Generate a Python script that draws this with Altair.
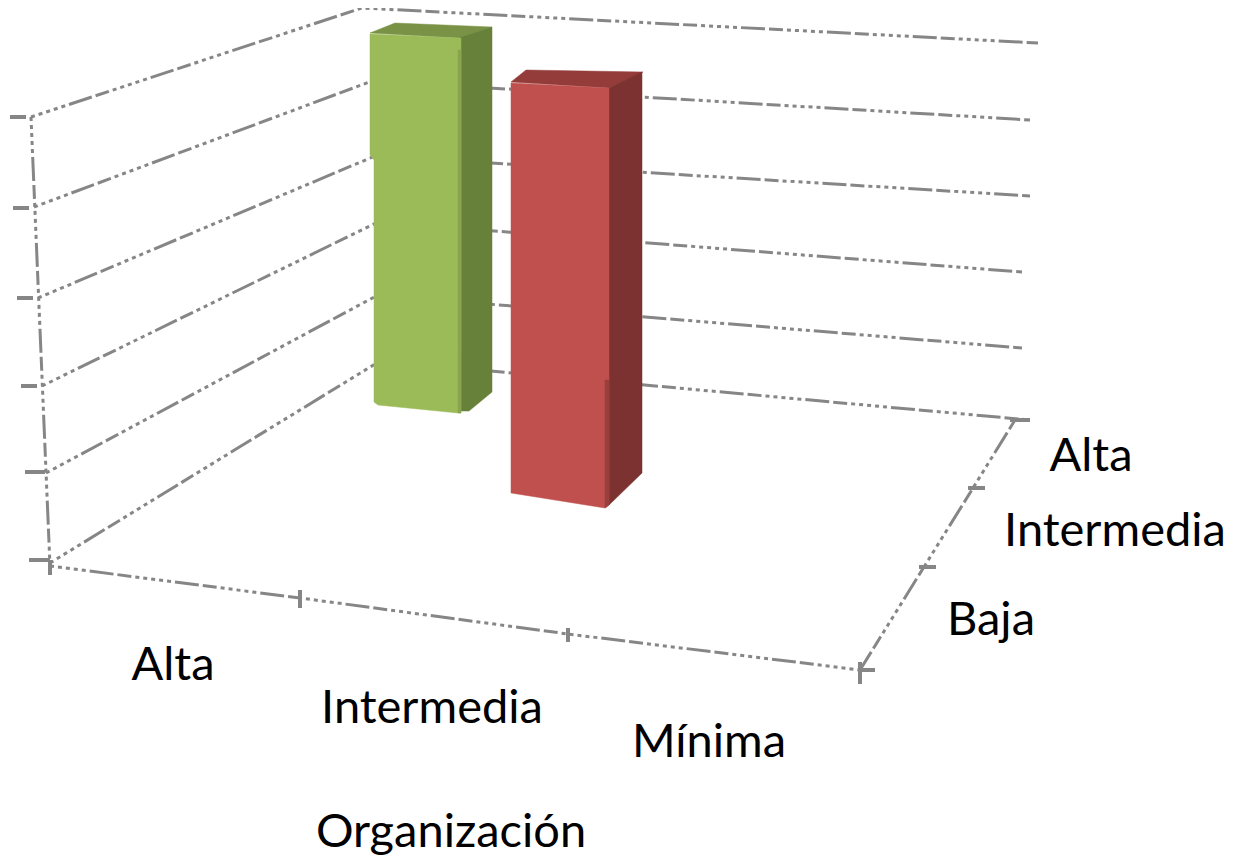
import altair as alt
import pandas as pd

W, H = 1218, 852
GRID = "#868686"

# Left wall, back corner and right end of each grid level
level = [0, 1, 2, 3, 4, 5]
wall_x = [50, 46, 42, 38, 34, 31]
wall_y = [563, 473, 386, 298, 207, 117]
corner_x = [380, 378, 378, 375, 372, 362]
corner_y = [361, 295, 222, 156, 81, 8]
right_x = [1030, 1022, 1022, 1030, 1030, 1038]
right_y = [420, 348, 272, 196, 120, 43]

# Floor outline
floor_x = [50, 300, 568, 860, 973, 1015]
floor_y = [566, 598, 634, 670, 488, 420]
wall_edge_x = [31, 50]
wall_edge_y = [117, 566]

# Bar faces
faces = {
    "green_top": ([370, 395, 492, 458], [33, 23, 27, 38], "#7A9245"),
    "green_side": ([458, 492, 492, 469, 461], [38, 27, 392, 411, 411], "#67803A"),
    "green_front": ([370, 461, 461, 458, 378, 374, 374, 370], [34, 38, 413, 413, 405, 402, 160, 155], "#9BBB59"),
    "green_strip": ([458, 461, 461, 458], [50, 50, 413, 413], "#88A44E"),
    "red_top": ([511, 526, 643, 609], [82, 70, 72, 88], "#943C3A"),
    "red_side": ([609, 642, 642, 609], [88, 72, 473, 505], "#7B3230"),
    "red_front": ([511, 609, 609, 605, 511], [83, 88, 505, 508, 493], "#C0504D"),
    "red_strip": ([605, 609, 609, 605], [380, 380, 505, 508], "#9A3F3D"),
}

# Tick marks
tick_x1 = [10, 13, 17, 21, 25, 29, 50, 300, 568, 860, 860, 919, 968, 1010]
tick_x2 = [26, 29, 33, 37, 45, 50, 50, 300, 568, 860, 875, 936, 985, 1030]
tick_y1 = [117, 208, 298, 386, 472, 560, 560, 590, 628, 662, 670, 567, 488, 420]
tick_y2 = [117, 208, 298, 386, 472, 560, 575, 608, 642, 684, 670, 567, 488, 420]

# Labels
labels = ["Alta", "Intermedia", "Mínima", "Organización", "Baja", "Intermedia", "Alta"]
label_x = [173, 432, 709, 451, 991, 1115, 1091]
label_y = [666, 709, 743, 833, 621, 532, 457]

xs = alt.Scale(domain=[8, 8 + W], range=[0, W], nice=False, zero=False)
ys = alt.Scale(domain=[8, 8 + H], range=[0, H], nice=False, zero=False)
X = alt.X("x:Q", scale=xs, axis=None)
Y = alt.Y("y:Q", scale=ys, axis=None)
DASH = [4, 4, 4, 4, 4, 4, 4, 4, 4, 4, 24, 4, 14, 4]

rows = []
for i, l in enumerate(level):
    rows += [
        {"g": f"l{l}", "i": 0, "x": wall_x[i], "y": wall_y[i]},
        {"g": f"l{l}", "i": 1, "x": corner_x[i], "y": corner_y[i]},
        {"g": f"l{l}", "i": 2, "x": right_x[i], "y": right_y[i]},
    ]
rows += [{"g": "floor", "i": i, "x": a, "y": b} for i, (a, b) in enumerate(zip(floor_x, floor_y))]
rows += [{"g": "edge", "i": i, "x": a, "y": b} for i, (a, b) in enumerate(zip(wall_edge_x, wall_edge_y))]
grid = (
    alt.Chart(pd.DataFrame(rows))
    .mark_line(color=GRID, strokeWidth=3, strokeDash=DASH, strokeCap="butt")
    .encode(x=X, y=Y, detail="g:N", order="i:Q")
)

ticks = (
    alt.Chart(pd.DataFrame({"x": tick_x1, "x2": tick_x2, "y": tick_y1, "y2": tick_y2}))
    .mark_rule(color=GRID, strokeWidth=4)
    .encode(x=X, x2="x2:Q", y=Y, y2="y2:Q")
)

bars = []
for name, (fx, fy, col) in faces.items():
    df = pd.DataFrame({"x": fx + fx[:1], "y": fy + fy[:1]})
    df["i"] = range(len(df))
    bars.append(
        alt.Chart(df)
        .mark_line(fill=col, color=col, strokeWidth=0.5, filled=False, interpolate="linear")
        .encode(x=X, y=Y, order="i:Q")
    )

text = (
    alt.Chart(pd.DataFrame({"t": labels, "x": label_x, "y": label_y}))
    .mark_text(font="Lato", fontSize=47, color="#000000", align="center", baseline="middle")
    .encode(x=X, y=Y, text="t:N")
)

chart = (
    alt.layer(grid, ticks, *bars, text)
    .properties(width=W, height=H, padding=0, autosize=alt.AutoSizeParams(type="none"))
    .configure_view(stroke=None)
)
chart.save("out.html", embed_options={"renderer": "svg", "actions": False})
